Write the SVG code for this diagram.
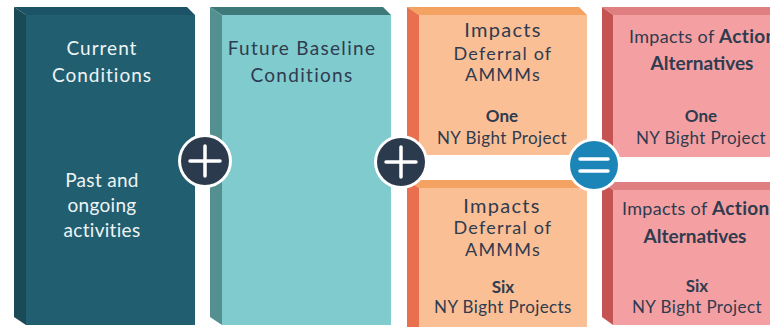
<svg xmlns="http://www.w3.org/2000/svg" width="770" height="327" viewBox="0 0 770 327">
<style>
text{font-family:Lato,"Open Sans","Liberation Sans",sans-serif;text-anchor:middle}
.w{fill:#EEF4F5;font-size:19px;letter-spacing:1px}
.d{fill:#2F3B4E;font-size:18px;letter-spacing:0.8px}
.t{font-size:19px;letter-spacing:1.3px}
.s{fill:#2F3B4E;font-size:17px}
.b{font-weight:bold}
.sym{stroke:#fff;stroke-width:3.5;stroke-linecap:round;fill:none}
</style>
<rect width="770" height="327" fill="#fff"/>
<g id="current">
<polygon points="26,15 195,15 195,325 26,325" fill="#215F70"/>
<polygon points="14,7 187,7 195,15 26,15" fill="#1C5366"/>
<polygon points="14,7 26,15 26,325 14,317" fill="#1A4A55"/>
<text class="w" x="102" y="55">Current</text>
<text class="w" x="102" y="82">Conditions</text>
<text class="w" x="102" y="187" style="letter-spacing:0.3px">Past and</text>
<text class="w" x="102" y="212" style="letter-spacing:0.3px">ongoing</text>
<text class="w" x="102" y="237" style="letter-spacing:0.3px">activities</text>
</g>
<g id="future">
<polygon points="222,15 391,15 391,325 222,325" fill="#80CBCE"/>
<polygon points="210,7 383,7 391,15 222,15" fill="#3E7979"/>
<polygon points="210,7 222,15 222,325 210,317" fill="#54908F"/>
<text class="d t" x="302" y="55">Future Baseline</text>
<text class="d t" x="302" y="82">Conditions</text>
</g>
<g id="deferral-one">
<polygon points="419,15 587,15 587,155 419,155" fill="#FBBF96"/>
<polygon points="407,7 579,7 587,15 419,15" fill="#F4A262"/>
<polygon points="407,7 419,15 419,155 407,155" fill="#E8704F"/>
<text class="d t" x="503" y="37" style="font-size:20px">Impacts</text>
<text class="d" x="503" y="60" style="letter-spacing:1.2px">Deferral of</text>
<text class="d" x="503" y="81" style="letter-spacing:1.2px">AMMMs</text>
<text class="s b" x="502" y="122">One</text>
<text class="s" x="502" y="144" style="letter-spacing:0.4px">NY Bight Project</text>
</g>
<g id="deferral-six">
<polygon points="419,188 587,188 587,327 419,327" fill="#FBBF96"/>
<polygon points="407,180 579,180 587,188 419,188" fill="#F4A262"/>
<polygon points="407,180 419,188 419,327 407,327" fill="#E8704F"/>
<text class="d t" x="502" y="213" style="font-size:20px">Impacts</text>
<text class="d" x="503" y="234" style="letter-spacing:1.2px">Deferral of</text>
<text class="d" x="503" y="256" style="letter-spacing:1.2px">AMMMs</text>
<text class="s b" x="503" y="293">Six</text>
<text class="s" x="503" y="313" style="letter-spacing:0.4px">NY Bight Projects</text>
</g>
<g id="action-one">
<polygon points="613,15 770,15 770,157 613,157" fill="#F4A0A3"/>
<polygon points="602,7 770,7 770,15 613,15" fill="#E07F82"/>
<polygon points="602,7 613,15 613,157 602,157" fill="#C45352"/>
<text class="s" x="629" y="43" style="text-anchor:start;font-size:18px;letter-spacing:0.3px">Impacts of <tspan class="b" style="font-size:19px">Action</tspan></text>
<text class="s b" x="702" y="70" style="font-size:19px">Alternatives</text>
<text class="s b" x="701" y="122">One</text>
<text class="s" x="701" y="144" style="letter-spacing:0.4px">NY Bight Project</text>
</g>
<g id="action-six">
<polygon points="613,190 770,190 770,325 613,325" fill="#F4A0A3"/>
<polygon points="602,182 770,182 770,190 613,190" fill="#E07F82"/>
<polygon points="602,182 613,190 613,325 602,317" fill="#C45352"/>
<text class="s" x="622" y="215" style="text-anchor:start;font-size:18px;letter-spacing:0.3px">Impacts of <tspan class="b" style="font-size:19px">Action</tspan></text>
<text class="s b" x="695" y="243" style="font-size:19px">Alternatives</text>
<text class="s b" x="697" y="292">Six</text>
<text class="s" x="697" y="313" style="letter-spacing:0.4px">NY Bight Project</text>
</g>
<g id="connectors">
<g id="plus1">
<circle cx="205" cy="161" r="27" fill="#fff"/>
<circle cx="205" cy="161" r="24" fill="#2C3A4E"/>
<path class="sym" d="M190,161 H220 M205,146 V176"/>
</g>
<g id="plus2">
<circle cx="401" cy="162" r="27" fill="#fff"/>
<circle cx="401" cy="162" r="24" fill="#2C3A4E"/>
<path class="sym" d="M386,162 H416 M401,147 V177"/>
</g>
<g id="equals">
<circle cx="594" cy="165" r="27" fill="#fff"/>
<circle cx="594" cy="165" r="24" fill="#1B85B8"/>
<path class="sym" d="M580,159 H608 M580,171 H608"/>
</g>
</g>
</svg>
